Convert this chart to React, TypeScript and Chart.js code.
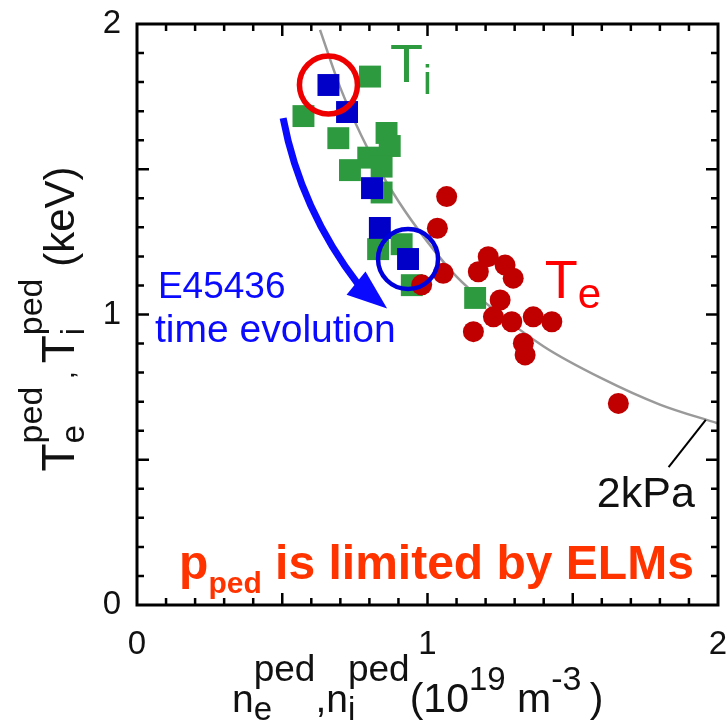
import React, { useEffect, useRef } from "react";
import { Chart, registerables } from "chart.js";

Chart.register(...registerables);

const FONT = "'Liberation Sans', Arial, sans-serif";

// T_i (green squares)
const tiN = [0.802, 0.573, 0.693, 0.859, 0.870, 0.796, 0.733, 0.842, 0.842, 0.830, 0.911, 0.946, 1.164];
const tiT = [1.819, 1.683, 1.607, 1.625, 1.580, 1.540, 1.497, 1.509, 1.420, 1.225, 1.242, 1.101, 1.057];

// E45436 time evolution (blue squares)
const evN = [0.659, 0.723, 0.809, 0.836, 0.933];
const evT = [1.790, 1.697, 1.435, 1.298, 1.191];

// T_e (red circles)
const teN = [1.066, 1.034, 1.054, 0.980, 1.209, 1.175, 1.267, 1.295, 1.250, 1.227, 1.290, 1.364, 1.428, 1.158, 1.330, 1.336, 1.657];
const teT = [1.406, 1.297, 1.142, 1.102, 1.199, 1.147, 1.170, 1.125, 1.050, 0.992, 0.975, 0.992, 0.975, 0.941, 0.901, 0.861, 0.694];

// 2 kPa isobar
const isoN = [0.63, 0.7, 0.8, 0.9, 1.0, 1.1, 1.2, 1.4, 1.6, 1.8, 2.0];
const isoT = [1.98, 1.78, 1.56, 1.39, 1.25, 1.13, 1.04, 0.89, 0.78, 0.69, 0.625];

// highlighted points (rings)
const redRingN = [0.659];
const redRingT = [1.790];
const blueRingN = [0.933];
const blueRingT = [1.191];

// arrow (start, control, base, tip) in data units
const arrowN = [0.503, 0.563, 0.754, 0.861];
const arrowT = [1.676, 1.361, 1.108, 1.021];

const xTicks = [0, 1, 2];
const yTicks = [0, 1, 2];

const pts = (xs: number[], ys: number[]) => xs.map((x, i) => ({ x, y: ys[i] }));

type Seg = { t: string; size: number; dy?: number; stack?: boolean; bold?: boolean };

function richWidth(ctx: CanvasRenderingContext2D, segs: Seg[]) {
  let w = 0;
  for (const s of segs) {
    ctx.font = `${s.bold ? "bold " : ""}${s.size}px ${FONT}`;
    if (!s.stack) w += ctx.measureText(s.t).width;
  }
  return w;
}

function drawRich(ctx: CanvasRenderingContext2D, segs: Seg[], x: number, y: number, color: string) {
  let cx = x;
  ctx.fillStyle = color;
  ctx.textBaseline = "alphabetic";
  ctx.textAlign = "left";
  for (const s of segs) {
    ctx.font = `${s.bold ? "bold " : ""}${s.size}px ${FONT}`;
    ctx.fillText(s.t, cx, y + (s.dy || 0));
    if (!s.stack) cx += ctx.measureText(s.t).width;
  }
}

const decorPlugin = {
  id: "decor",
  afterDatasetsDraw(chart: any) {
    const ctx: CanvasRenderingContext2D = chart.ctx;
    const xs = chart.scales.x;
    const ys = chart.scales.y;
    const { left, right, top, bottom } = chart.chartArea;
    const X = (v: number) => xs.getPixelForValue(v);
    const Y = (v: number) => ys.getPixelForValue(v);
    ctx.save();

    // frame
    ctx.strokeStyle = "#000";
    ctx.lineWidth = 3;
    ctx.strokeRect(left, top, right - left, bottom - top);
    // inward ticks every 0.1, longer every 0.5
    ctx.lineWidth = 2.5;
    for (let k = 1; k < 20; k++) {
      const v = k / 10;
      const len = k % 5 === 0 ? 12 : 7;
      const px = X(v);
      const py = Y(v);
      ctx.beginPath();
      ctx.moveTo(px, bottom); ctx.lineTo(px, bottom - len);
      ctx.moveTo(px, top); ctx.lineTo(px, top + len);
      ctx.moveTo(left, py); ctx.lineTo(left + len, py);
      ctx.moveTo(right, py); ctx.lineTo(right - len, py);
      ctx.stroke();
    }

    // arrow
    const p0 = { x: X(arrowN[0]), y: Y(arrowT[0]) };
    const c = { x: X(arrowN[1]), y: Y(arrowT[1]) };
    const p2 = { x: X(arrowN[2]), y: Y(arrowT[2]) };
    const tip = { x: X(arrowN[3]), y: Y(arrowT[3]) };
    ctx.strokeStyle = "#0a0aff";
    ctx.fillStyle = "#0a0aff";
    ctx.lineWidth = 7;
    ctx.lineCap = "butt";
    ctx.beginPath();
    ctx.moveTo(p0.x, p0.y);
    ctx.quadraticCurveTo(c.x, c.y, p2.x + (tip.x - p2.x) * 0.1, p2.y + (tip.y - p2.y) * 0.1);
    ctx.stroke();
    const dx = tip.x - p2.x, dy = tip.y - p2.y;
    const L = Math.hypot(dx, dy);
    const nx = -dy / L, ny = dx / L;
    const hw = 15;
    ctx.beginPath();
    ctx.moveTo(tip.x, tip.y);
    ctx.lineTo(p2.x + nx * hw, p2.y + ny * hw);
    ctx.lineTo(p2.x - nx * hw, p2.y - ny * hw);
    ctx.closePath();
    ctx.fill();

    // 2kPa leader line
    ctx.strokeStyle = "#000";
    ctx.lineWidth = 2;
    ctx.beginPath();
    ctx.moveTo(X(1.83), Y(0.475));
    ctx.lineTo(X(1.958), Y(0.637));
    ctx.stroke();

    // labels
    drawRich(ctx, [{ t: "T", size: 54 }, { t: "i", size: 40, dy: 12 }], X(0.871), Y(1.80), "#2e9a40");
    drawRich(ctx, [{ t: "T", size: 54 }, { t: "e", size: 42, dy: 10 }], X(1.404), Y(1.057), "#ff0000");
    drawRich(ctx, [{ t: "E45436", size: 37 }], X(0.072), Y(1.057), "#0a0aff");
    drawRich(ctx, [{ t: "time evolution", size: 39 }], X(0.062), Y(0.905), "#0a0aff");
    drawRich(ctx, [{ t: "2kPa", size: 43 }], X(1.583), Y(0.337), "#111");
    drawRich(
      ctx,
      [
        { t: "p", size: 48, bold: true },
        { t: "ped", size: 30, bold: true, dy: 14 },
        { t: " is limited by ELMs", size: 48, bold: true },
      ],
      X(0.145), Y(0.09), "#ff3300"
    );

    // axis titles
    const xTitle: Seg[] = [
      { t: "n", size: 39 }, { t: "e", size: 33, dy: 8, stack: true }, { t: "ped", size: 37, dy: -31 },
      { t: ",", size: 39 },
      { t: "n", size: 39 }, { t: "i", size: 33, dy: 8, stack: true }, { t: "ped", size: 37, dy: -31 },
      { t: "(10", size: 41 }, { t: "19", size: 33, dy: -22 }, { t: " m", size: 41 }, { t: "-3", size: 34, dy: -22 },
      { t: "\u2009)", size: 41 },
    ];
    drawRich(ctx, xTitle, left + 95, 712, "#111");

    const yTitle: Seg[] = [
      { t: "T", size: 46 }, { t: "e", size: 33, dy: 10, stack: true }, { t: "ped", size: 34, dy: -32 },
      { t: " , ", size: 28 },
      { t: "T", size: 46 }, { t: "i", size: 33, dy: 10, stack: true }, { t: "ped", size: 34, dy: -32 },
      { t: " (keV)", size: 42 },
    ];
    const w = richWidth(ctx, yTitle);
    ctx.translate(74, 319);
    ctx.rotate(-Math.PI / 2);
    drawRich(ctx, yTitle, -w / 2, 0, "#111");

    ctx.restore();
  },
};

const noPad = (s: any) => {
  s.paddingLeft = 0;
  s.paddingRight = 0;
  s.paddingTop = 0;
  s.paddingBottom = 0;
};

export default function App() {
  const ref = useRef<HTMLCanvasElement | null>(null);
  useEffect(() => {
    if (!ref.current) return;
    const chart = new Chart(ref.current, {
      type: "scatter",
      data: {
        datasets: [
          {
            label: "red ring",
            data: pts(redRingN, redRingT),
            pointStyle: "circle",
            pointRadius: 29,
            backgroundColor: "rgba(0,0,0,0)",
            borderColor: "#ee0000",
            borderWidth: 5.5,
          } as any,
          {
            label: "blue ring",
            data: pts(blueRingN, blueRingT),
            pointStyle: "circle",
            pointRadius: 30,
            backgroundColor: "rgba(0,0,0,0)",
            borderColor: "#0000dd",
            borderWidth: 4.5,
          },
          {
            label: "E45436",
            data: pts(evN, evT),
            pointStyle: "rect",
            pointRadius: 15.5,
            backgroundColor: "#0000c8",
            borderWidth: 0,
          },
          {
            label: "Te",
            data: pts(teN, teT),
            pointStyle: "circle",
            pointRadius: 10.5,
            backgroundColor: "#c00000",
            borderWidth: 0,
          },
          {
            label: "Ti",
            data: pts(tiN, tiT),
            pointStyle: "rect",
            pointRadius: 15.5,
            backgroundColor: "#2e9a40",
            borderWidth: 0,
          },
          {
            label: "2kPa",
            data: pts(isoN, isoT),
            showLine: true,
            pointRadius: 0,
            borderColor: "#9a9a9a",
            borderWidth: 2.5,
            tension: 0.4,
            cubicInterpolationMode: "monotone",
          } as any,
        ],
      },
      options: {
        animation: false,
        responsive: false,
        events: [],
        layout: { autoPadding: false, padding: { top: 24, right: 10, left: 0, bottom: 0 } },
        plugins: { legend: { display: false }, tooltip: { enabled: false } },
        scales: {
          x: {
            type: "linear",
            min: 0,
            max: 2,
            afterBuildTicks: (s: any) => { s.ticks = xTicks.map((v) => ({ value: v })); },
            afterFit: (s: any) => { s.height = 117; noPad(s); },
            ticks: { font: { size: 33, family: FONT }, color: "#111", padding: 20, maxRotation: 0 },
            grid: { display: false, drawTicks: false },
            border: { display: false },
          },
          y: {
            type: "linear",
            min: 0,
            max: 2,
            afterBuildTicks: (s: any) => { s.ticks = yTicks.map((v) => ({ value: v })); },
            afterFit: (s: any) => { s.width = 137; noPad(s); },
            ticks: { font: { size: 33, family: FONT }, color: "#111", padding: 16 },
            grid: { display: false, drawTicks: false },
            border: { display: false },
          },
        },
      } as any,
      plugins: [decorPlugin],
    });
    return () => chart.destroy();
  }, []);
  return (
    <div style={{ position: "absolute", left: 0, top: 0, width: 728, height: 722, background: "#fff" }}>
      <canvas ref={ref} width={728} height={722} style={{ width: 728, height: 722, display: "block" }} />
    </div>
  );
}
